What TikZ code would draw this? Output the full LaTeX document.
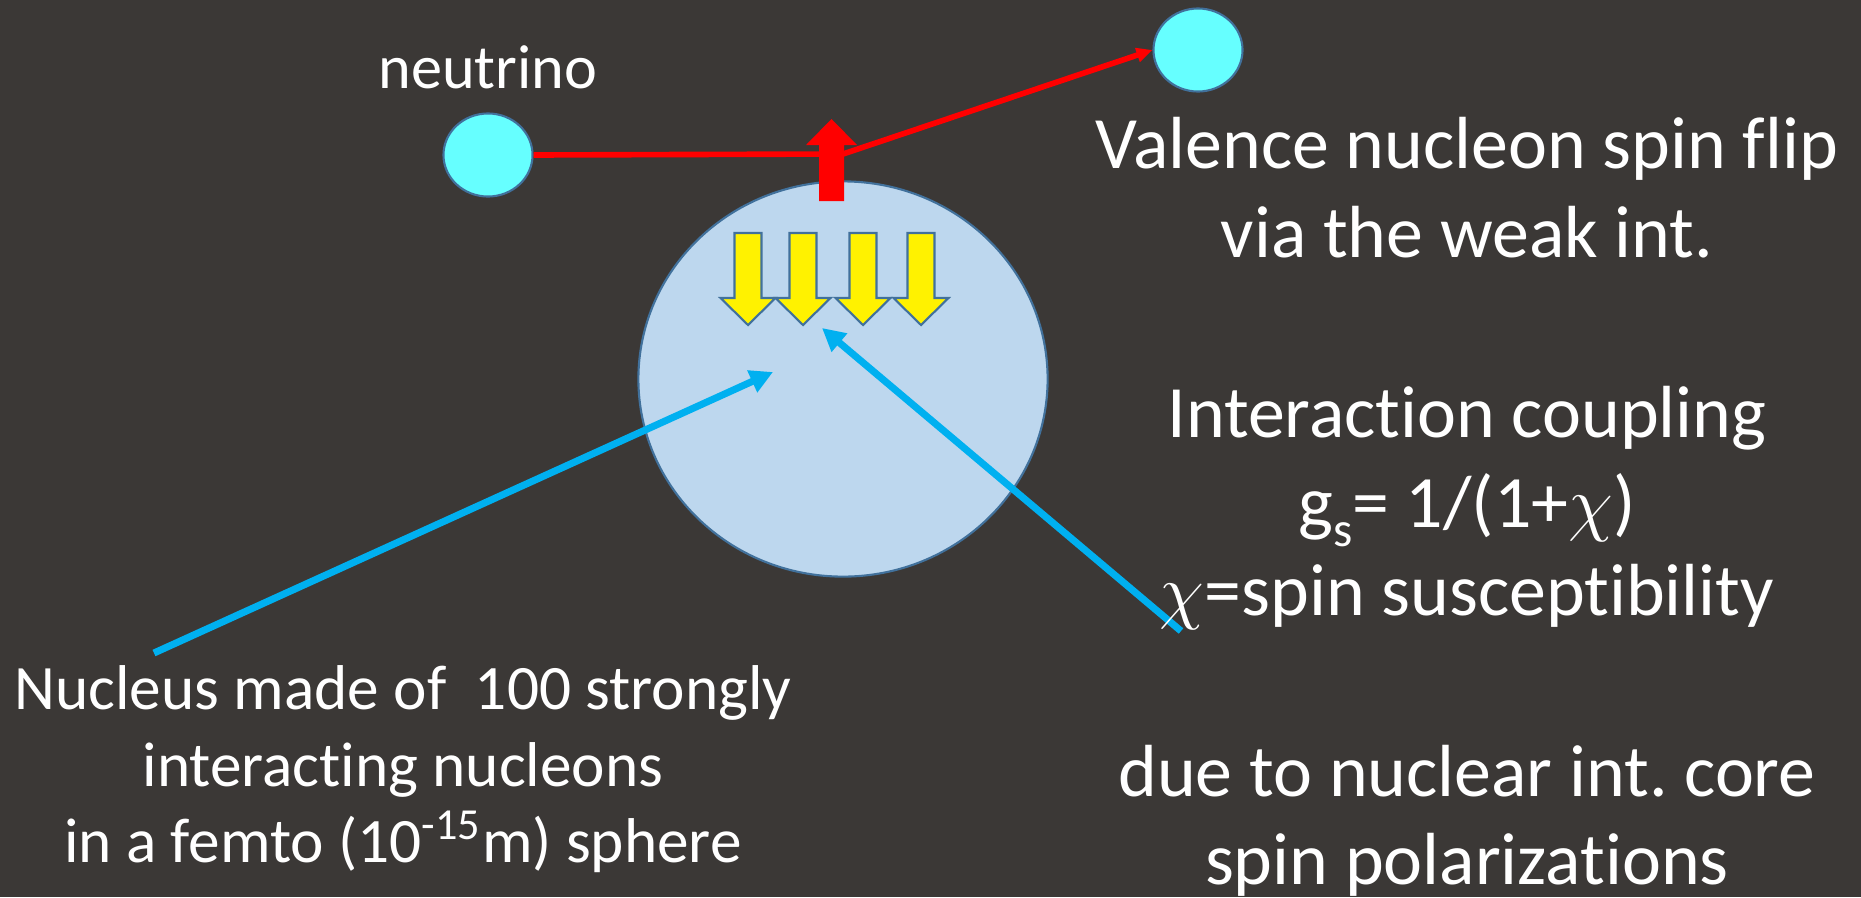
\documentclass[tikz,border=0pt]{standalone}
\usepackage{fontspec}
\setmainfont[Ligatures={NoCommon,NoRare,NoContextual},Contextuals=NoAlternate]{Carlito}
\usetikzlibrary{positioning,arrows.meta,shapes.geometric}
\definecolor{slate}{RGB}{59,56,54}
\definecolor{rim}{RGB}{65,113,156}
\definecolor{aqua}{RGB}{102,255,255}
\definecolor{nucfill}{RGB}{189,215,238}
\definecolor{skyblue}{RGB}{0,176,240}
\tikzset{
  particle/.style={ellipse, draw=rim, fill=aqua, line width=0.6pt,
    minimum width=0.89cm, minimum height=0.83cm, inner sep=0pt},
  nucleus/.style={ellipse, draw=rim, fill=nucfill, line width=0.6pt,
    minimum width=4.09cm, minimum height=3.95cm, inner sep=0pt},
  track/.style={draw=red, line width=1.6pt, line join=round},
  hint/.style={draw=skyblue, line width=2pt, -{Triangle[length=6.5pt,width=6.5pt]}},
  spin/.style={fill=yellow, draw=rim, line width=0.6pt},
  bigtxt/.style={text=white, font=\fontsize{21}{25}\selectfont, anchor=base, inner sep=0pt},
  smalltxt/.style={text=white, font=\fontsize{18}{22}\selectfont, anchor=base, inner sep=0pt}
}

\begin{document}
\begin{tikzpicture}[x=0.01cm, y=-0.01cm]
    \fill[slate] (0,0) rectangle (1861,897);
    \useasboundingbox (0,0) rectangle (1861,897);

    \node[nucleus] (core) at (843,379) {};
    \node[particle] (nuin) at (488,155) {};
    \node[particle] (nuout) at (1198,50) {};
    \node[smalltxt, font=\fontsize{17.7}{22}\selectfont, above=0.23cm of nuin] (nulabel) {neutrino};

    % flipped valence spin
    \fill[red] (819,201) -- (819,145) -- (806,145) -- (831.5,119) -- (857,145)
        -- (844,145) -- (844,201) -- cycle;

    \coordinate (flip) at (843,154);
    \draw[track, -{Triangle[length=4.5pt,width=4pt]}] (nuin.east) -- (flip) -- (nuout.west);

    % core spins
    \foreach \sx in {748,803,863,921}
      \draw[spin] (\sx-13.5,233) -- (\sx+13.5,233) -- (\sx+13.5,298) -- (\sx+27.5,298)
        -- (\sx,325) -- (\sx-27.5,298) -- (\sx-13.5,298) -- cycle;

    \coordinate (nucfoot) at (154,653);
    \coordinate (nucaim) at (773,372);
    \coordinate (chifoot) at (1181,631);
    \coordinate (chiaim) at (822,328);
    \draw[hint] (nucfoot) -- (nucaim);
    \draw[hint] (chifoot) -- (chiaim);

    \node[bigtxt] (flip1) at (1467,168) {Valence nucleon spin flip};
    \node[bigtxt] (flip2) at (1467,257) {via the weak int.};
    \node[bigtxt] (coup1) at (1467,437) {Interaction coupling};
    \node[bigtxt] (coup2) at (1467,527) {g\raisebox{-0.27em}{\fontsize{14}{16}\selectfont s}= 1/(1+$\chi$)};
    \node[bigtxt] (coup3) at (1467,615) {$\chi$=spin susceptibility};
    \node[bigtxt] (core1) at (1467,796) {due to nuclear int.\ core};
    \node[bigtxt] (core2) at (1467,884) {spin polarizations};

    \node[smalltxt] (nuc1) at (403,709) {Nucleus made of~ 100 strongly};
    \node[smalltxt] (nuc2) at (403,786) {interacting nucleons};
    \node[smalltxt] (nuc3) at (403,862) {in a femto (10\textsuperscript{-15}m) sphere};
\end{tikzpicture}
\end{document}
